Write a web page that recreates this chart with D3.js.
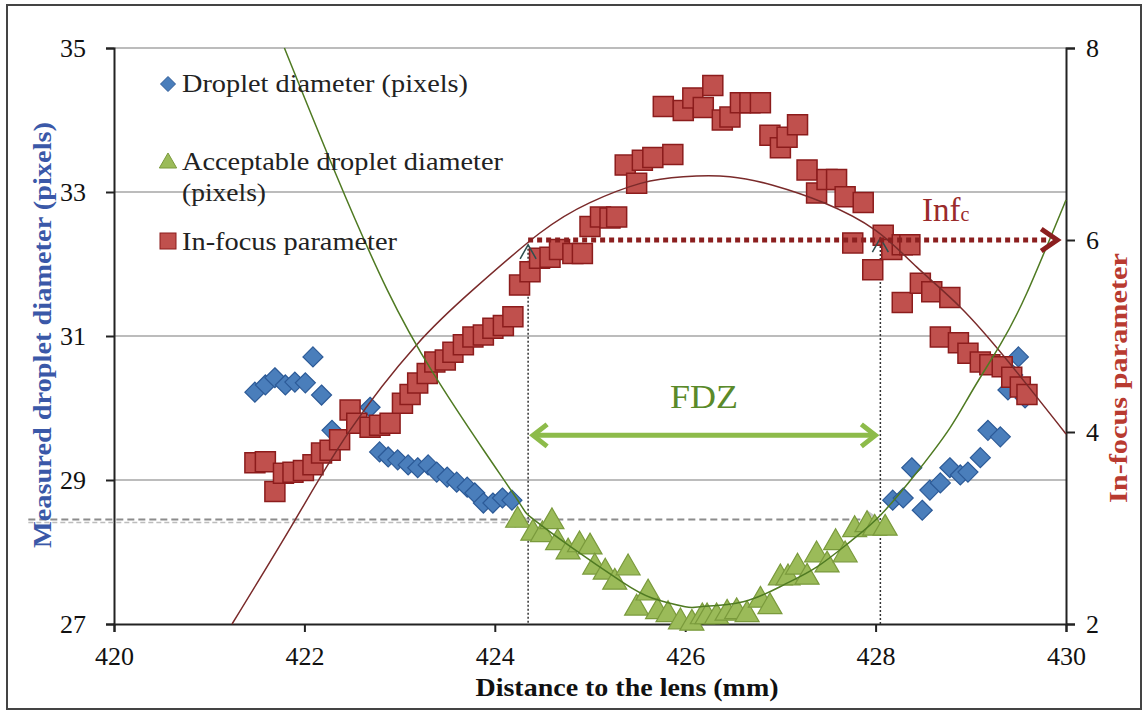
<!DOCTYPE html>
<html>
<head>
<meta charset="utf-8">
<script src="https://cdn.jsdelivr.net/npm/d3@7"></script>
<style>
  body { margin: 0; background: #fff; }
  svg text { font-family: "Liberation Serif", "DejaVu Serif", serif; }
</style>
</head>
<body>
<svg id="chart" width="1148" height="714"></svg>
<script>
(() => {
    // Droplet diameter (pixels) - left axis
    const dropletX = [421.48, 421.59, 421.69, 421.80, 421.90, 422.01, 422.09, 422.18, 422.29, 422.69,
        422.79, 422.88, 422.98, 423.09, 423.19, 423.30, 423.39, 423.50, 423.60, 423.71, 423.79, 423.88,
        423.98, 424.08, 424.18, 428.18, 428.29, 428.38, 428.49, 428.57, 428.68, 428.78, 428.89, 428.97,
        429.10, 429.18, 429.31, 429.39, 429.44, 429.50, 429.57];
    const dropletY = [30.22, 30.32, 30.42, 30.32, 30.36, 30.35, 30.71, 30.18, 29.69, 30.01,
        29.39, 29.32, 29.28, 29.21, 29.17, 29.21, 29.11, 29.04, 28.97, 28.90, 28.82, 28.68,
        28.68, 28.75, 28.72, 28.72, 28.75, 29.17, 28.58, 28.86, 28.96, 29.17, 29.07, 29.11,
        29.31, 29.69, 29.60, 30.25, 30.46, 30.71, 30.14];

    // Acceptable droplet diameter (pixels) - left axis
    const acceptX = [424.24, 424.40, 424.50, 424.60, 424.66, 424.77, 424.89, 425.00, 425.05, 425.16,
        425.26, 425.40, 425.49, 425.61, 425.71, 425.82, 425.95, 426.07, 426.18, 426.23, 426.33, 426.44,
        426.54, 426.65, 426.79, 426.89, 427.00, 427.08, 427.18, 427.28, 427.38, 427.49, 427.58, 427.68,
        427.78, 427.91, 427.99, 428.10];
    const acceptY = [28.44, 28.26, 28.24, 28.42, 28.13, 28.00, 28.10, 28.07, 27.79, 27.72,
        27.58, 27.78, 27.22, 27.43, 27.17, 27.13, 27.03, 27.01, 27.10, 27.10, 27.10, 27.15,
        27.17, 27.13, 27.33, 27.24, 27.64, 27.64, 27.79, 27.65, 27.96, 27.82, 28.13, 27.96,
        28.31, 28.38, 28.33, 28.33];

    // In-focus parameter - right axis
    const focusX = [421.48, 421.59, 421.69, 421.78, 421.88, 421.99, 422.09, 422.18, 422.27, 422.37,
        422.48, 422.55, 422.69, 422.79, 422.90, 423.03, 423.11, 423.19, 423.29, 423.37, 423.48, 423.56,
        423.67, 423.77, 423.88, 423.98, 424.09, 424.19, 424.26, 424.37, 424.47, 424.58, 424.68, 424.82,
        424.92, 425.00, 425.11, 425.21, 425.28, 425.37, 425.49, 425.55, 425.66, 425.87, 425.77, 425.98,
        426.08, 426.19, 426.29, 426.39, 426.47, 426.58, 426.68, 426.79, 426.89, 427.00, 427.07, 427.18,
        427.28, 427.38, 427.49, 427.59, 427.68, 427.87, 427.76, 428.08, 427.97, 428.17, 428.28, 428.36,
        428.28, 428.47, 428.59, 428.78, 428.68, 428.87, 428.97, 429.10, 429.20, 429.33, 429.43, 429.52,
        429.59];
    const focusY = [3.68, 3.69, 3.38, 3.57, 3.58, 3.60, 3.66, 3.78, 3.81, 3.92,
        4.23, 4.09, 4.05, 4.07, 4.09, 4.30, 4.39, 4.51, 4.61, 4.73, 4.75, 4.83,
        4.91, 4.99, 5.01, 5.08, 5.11, 5.20, 5.53, 5.67, 5.81, 5.82, 5.90, 5.86,
        5.86, 6.14, 6.24, 6.23, 6.24, 6.78, 6.59, 6.83, 6.86, 6.89, 7.39, 7.35,
        7.48, 7.38, 7.61, 7.25, 7.28, 7.43, 7.43, 7.43, 7.09, 6.96, 7.07, 7.20,
        6.73, 6.49, 6.63, 6.63, 6.45, 6.39, 5.97, 6.05, 5.69, 5.90, 5.95, 5.95,
        5.35, 5.55, 5.46, 5.40, 4.99, 4.93, 4.82, 4.73, 4.70, 4.68, 4.57, 4.47,
        4.39];

    // trend curves
    const focusFitX = [421.24, 421.90, 422.48, 423.18, 423.77, 424.47, 425.00, 425.53, 425.98, 426.47,
        426.92, 427.45, 428.00, 428.43, 428.89, 429.38, 430.00];
    const focusFitY = [2.00, 3.08, 4.02, 4.91, 5.48, 6.07, 6.39, 6.59, 6.66, 6.66,
        6.57, 6.39, 6.10, 5.72, 5.30, 4.75, 3.98];
    const acceptFitX = [421.79, 422.33, 422.87, 423.35, 423.88, 424.26, 424.39, 424.81, 425.34, 425.65,
        426.00, 426.16, 426.61, 427.03, 427.38, 427.73, 428.05, 428.43, 428.78, 429.02, 429.31, 429.59, 430.00];
    const acceptFitY = [35.00, 33.25, 31.64, 30.49, 29.42, 28.68, 28.47, 28.06, 27.58, 27.36,
        27.24, 27.24, 27.31, 27.54, 27.79, 28.14, 28.51, 29.10, 29.72, 30.25, 30.88, 31.60, 32.89];

    const xTicks = [420, 422, 424, 426, 428, 430];
    const leftTicks = [27, 29, 31, 33, 35];
    const rightTicks = [2, 4, 6, 8];

    // annotation values
    const fdzStart = 424.35, fdzEnd = 428.05, fdzLevel = 29.62;
    const infLevel = 6.0, infEnd = 429.95;
    const dashLevel = 28.45, dashStart = 419.1;

    const svg = d3.select("#chart");
    const x = d3.scaleLinear().domain([420, 430]).range([114, 1066]);
    const yL = d3.scaleLinear().domain([27, 35]).range([624, 48]);
    const yR = d3.scaleLinear().domain([2, 8]).range([624, 48]);

    // outer frame
    svg.append("rect").attr("x", 7).attr("y", 5).attr("width", 1134).attr("height", 704)
        .attr("fill", "none").attr("stroke", "#444").attr("stroke-width", 2);

    // gridlines
    svg.append("g").selectAll("line").data(leftTicks.slice(1))
        .join("line")
        .attr("x1", x(420)).attr("x2", x(430))
        .attr("y1", d => yL(d)).attr("y2", d => yL(d))
        .attr("stroke", "#a6a6a6").attr("stroke-width", 1.5);

    // axes
    const styleAxis = g => {
        g.select(".domain").attr("stroke", "#222").attr("stroke-width", 2);
        g.selectAll(".tick line").attr("stroke", "#222").attr("stroke-width", 2);
        g.selectAll(".tick text").attr("font-size", 26).attr("fill", "#111")
            .attr("font-family", "Liberation Serif");
    };
    svg.append("g").attr("transform", `translate(0,${yL(27)})`)
        .call(d3.axisBottom(x).tickValues(xTicks).tickSize(8).tickPadding(15).tickFormat(d3.format("d")))
        .call(styleAxis);
    svg.append("g").attr("transform", `translate(${x(420)},0)`)
        .call(d3.axisLeft(yL).tickValues(leftTicks).tickSize(8).tickPadding(20).tickFormat(d3.format("d")))
        .call(styleAxis);
    svg.append("g").attr("transform", `translate(${x(430)},0)`)
        .call(d3.axisRight(yR).tickValues(rightTicks).tickSize(9).tickPadding(11).tickFormat(d3.format("d")))
        .call(styleAxis);

    // marker shapes
    const diamond = s => `M0,${-s}L${s},0L0,${s}L${-s},0Z`;
    const triangle = d3.symbol(d3.symbolTriangle, 250);
    const square = d3.symbol(d3.symbolSquare, 400);

    // dashed reference lines (behind markers)
    const dashG = svg.append("g");
    dashG.append("line")
        .attr("x1", x(dashStart)).attr("x2", x(fdzEnd) - 4)
        .attr("y1", yL(dashLevel)).attr("y2", yL(dashLevel))
        .attr("stroke", "#8c8c8c").attr("stroke-width", 2).attr("stroke-dasharray", "7,4");
    dashG.append("line")
        .attr("x1", x(dashStart)).attr("x2", x(fdzStart) - 4)
        .attr("y1", yL(dashLevel) + 3).attr("y2", yL(dashLevel) + 3)
        .attr("stroke", "#bdbdbd").attr("stroke-width", 1.5).attr("stroke-dasharray", "5,3");
    [fdzStart, fdzEnd].forEach(v => {
        const px = x(v) - 2, py = yL(dashLevel);
        dashG.append("path").attr("d", `M${px - 12},${py - 8}L${px},${py}L${px - 12},${py + 7}`)
            .attr("fill", "none").attr("stroke", "#c4c4c4").attr("stroke-width", 3);
    });

    // vertical dotted lines
    svg.append("g").selectAll("line").data([{ v: fdzStart, top: 5.95 }, { v: fdzEnd, top: 6.02 }])
        .join("line")
        .attr("x1", d => x(d.v)).attr("x2", d => x(d.v))
        .attr("y1", d => yR(d.top)).attr("y2", yL(27))
        .attr("stroke", "#333").attr("stroke-width", 1.5).attr("stroke-dasharray", "2,2");

    // series
    svg.append("g").selectAll("path").data(dropletX.map((v, i) => [v, dropletY[i]]))
        .join("path")
        .attr("transform", d => `translate(${x(d[0])},${yL(d[1])})`)
        .attr("d", diamond(10))
        .attr("fill", "#4a7ebb").attr("stroke", "#2c5a97").attr("stroke-width", 1.2);

    svg.append("g").selectAll("path").data(acceptX.map((v, i) => [v, acceptY[i]]))
        .join("path")
        .attr("transform", d => `translate(${x(d[0])},${yL(d[1])})`)
        .attr("d", triangle)
        .attr("fill", "#9bbb59").attr("stroke", "#7a9a3c").attr("stroke-width", 1.2);

    svg.append("g").selectAll("path").data(focusX.map((v, i) => [v, focusY[i]]))
        .join("path")
        .attr("transform", d => `translate(${x(d[0])},${yR(d[1])})`)
        .attr("d", square)
        .attr("fill", "#c0504d").attr("stroke", "#8c1c1c").attr("stroke-width", 1.5);

    // trend curves
    svg.append("path")
        .datum(focusFitX.map((v, i) => [v, focusFitY[i]]))
        .attr("d", d3.line().x(d => x(d[0])).y(d => yR(d[1])).curve(d3.curveNatural))
        .attr("fill", "none").attr("stroke", "#7a2a2a").attr("stroke-width", 1.5);
    svg.append("path")
        .datum(acceptFitX.map((v, i) => [v, acceptFitY[i]]))
        .attr("d", d3.line().x(d => x(d[0])).y(d => yL(d[1])).curve(d3.curveNatural))
        .attr("fill", "none").attr("stroke", "#4f7a22").attr("stroke-width", 1.5);

    // small up-pointing chevrons on the dotted lines
    [{ v: fdzStart, top: 5.95 }, { v: fdzEnd, top: 6.02 }].forEach(d => {
        const px = x(d.v), py = yR(d.top);
        svg.append("path").attr("d", `M${px - 8},${py + 14}L${px},${py}L${px + 8},${py + 14}`)
            .attr("fill", "none").attr("stroke", "#2f4f4f").attr("stroke-width", 1.5);
    });

    // In-focus threshold dotted arrow
    const iy = yR(infLevel);
    svg.append("line")
        .attr("x1", x(fdzStart)).attr("x2", x(infEnd) - 12)
        .attr("y1", iy).attr("y2", iy)
        .attr("stroke", "#8b1f1f").attr("stroke-width", 5).attr("stroke-dasharray", "5,4");
    svg.append("path")
        .attr("d", `M${x(infEnd) - 20},${iy - 11}L${x(infEnd) - 4},${iy}L${x(infEnd) - 20},${iy + 11}`)
        .attr("fill", "none").attr("stroke", "#8b1f1f").attr("stroke-width", 5)
        .attr("stroke-linejoin", "miter");

    const inf = svg.append("text").attr("x", 922).attr("y", 221)
        .attr("font-size", 33).attr("fill", "#9a2a2a");
    inf.append("tspan").text("Inf");
    inf.append("tspan").attr("font-size", 20).text("c");

    // FDZ double arrow
    const fy = yL(fdzLevel), fx1 = x(fdzStart) + 3, fx2 = x(fdzEnd) - 3;
    svg.append("line").attr("x1", fx1 + 4).attr("x2", fx2 - 4).attr("y1", fy).attr("y2", fy)
        .attr("stroke", "#8dbb4a").attr("stroke-width", 5);
    svg.append("path")
        .attr("d", `M${fx1 + 16},${fy - 11}L${fx1 + 2},${fy}L${fx1 + 16},${fy + 11}M${fx2 - 16},${fy - 11}L${fx2 - 2},${fy}L${fx2 - 16},${fy + 11}`)
        .attr("fill", "none").attr("stroke", "#8dbb4a").attr("stroke-width", 5);
    svg.append("text").attr("x", 704).attr("y", 408).attr("text-anchor", "middle")
        .attr("font-size", 34).attr("textLength", 68).attr("lengthAdjust", "spacingAndGlyphs")
        .attr("fill", "#5a8a2a").text("FDZ");

    // legend
    const legend = svg.append("g");
    legend.append("path").attr("transform", "translate(168,84)").attr("d", diamond(7.5))
        .attr("fill", "#4a7ebb").attr("stroke", "#2c5a97");
    legend.append("path").attr("transform", "translate(168,163)").attr("d", d3.symbol(d3.symbolTriangle, 130))
        .attr("fill", "#9bbb59").attr("stroke", "#7a9a3c");
    legend.append("rect").attr("x", 160).attr("y", 233).attr("width", 16).attr("height", 16)
        .attr("fill", "#c0504d").attr("stroke", "#8c1c1c");
    const legText = [
        { t: "Droplet diameter (pixels)", y: 92, w: 286 },
        { t: "Acceptable droplet diameter", y: 170, w: 321 },
        { t: "(pixels)", y: 201, w: 84 },
        { t: "In-focus parameter", y: 250, w: 215 }
    ];
    legend.selectAll("text").data(legText).join("text")
        .attr("x", 182).attr("y", d => d.y)
        .attr("font-size", 26).attr("textLength", d => d.w).attr("lengthAdjust", "spacingAndGlyphs")
        .attr("fill", "#222").text(d => d.t);

    // axis titles
    svg.append("text").attr("transform", "translate(51,335) rotate(-90)")
        .attr("text-anchor", "middle").attr("font-size", 25).attr("font-weight", "bold")
        .attr("textLength", 426).attr("lengthAdjust", "spacingAndGlyphs")
        .attr("fill", "#3a58a8").text("Measured droplet diameter (pixels)");
    svg.append("text").attr("transform", "translate(1127,378) rotate(-90)")
        .attr("text-anchor", "middle").attr("font-size", 25).attr("font-weight", "bold")
        .attr("textLength", 250).attr("lengthAdjust", "spacingAndGlyphs")
        .attr("fill", "#b83a30").text("In-focus parameter");
    svg.append("text").attr("x", 627).attr("y", 696)
        .attr("text-anchor", "middle").attr("font-size", 25).attr("font-weight", "bold")
        .attr("textLength", 303).attr("lengthAdjust", "spacingAndGlyphs")
        .attr("fill", "#111").text("Distance to the lens (mm)");
})();
</script>
</body>
</html>
